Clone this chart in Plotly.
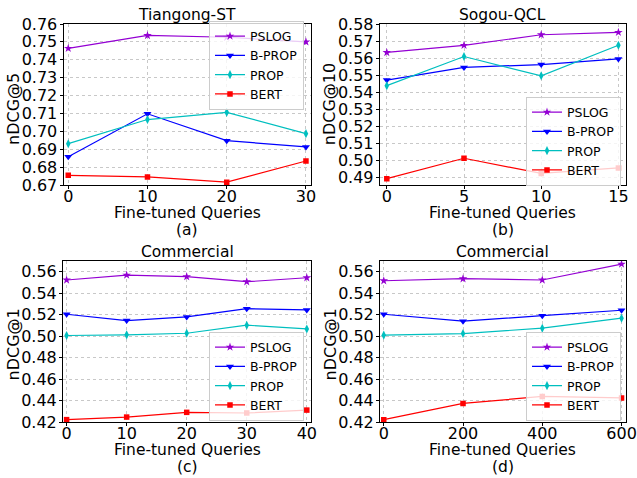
import plotly.graph_objects as go

# ---------------- data ----------------
series_names = ["PSLOG", "B-PROP", "PROP", "BERT"]

x_a = [0, 10, 20, 30]
a_pslog = [0.7464, 0.7536, 0.7526, 0.7500]
a_bprop = [0.6858, 0.7098, 0.6948, 0.6913]
a_prop = [0.6931, 0.7066, 0.7106, 0.6987]
a_bert = [0.6754, 0.6745, 0.6716, 0.6834]

x_b = [0, 5, 10, 15]
b_pslog = [0.5633, 0.5675, 0.5737, 0.5751]
b_bprop = [0.5471, 0.5545, 0.5562, 0.5595]
b_prop = [0.5438, 0.5609, 0.5496, 0.5675]
b_bert = [0.4892, 0.5012, 0.4923, 0.4955]

x_c = [0, 10, 20, 30, 40]
c_pslog = [0.5523, 0.5569, 0.5554, 0.5507, 0.5544]
c_bprop = [0.5204, 0.5145, 0.5179, 0.5256, 0.5244]
c_prop = [0.5006, 0.5012, 0.5027, 0.5102, 0.5067]
c_bert = [0.4222, 0.4246, 0.4290, 0.4284, 0.4311]

x_d = [0, 200, 400, 600]
d_pslog = [0.5516, 0.5535, 0.5523, 0.5671]
d_bprop = [0.5204, 0.5139, 0.5191, 0.5241]
d_prop = [0.5009, 0.5024, 0.5074, 0.5167]
d_bert = [0.4222, 0.4373, 0.4438, 0.4424]

panel_titles = ["Tiangong-ST", "Sogou-QCL", "Commercial", "Commercial"]
panel_labels = ["(a)", "(b)", "(c)", "(d)"]
y_titles = ["nDCG@5", "nDCG@10", "nDCG@1", "nDCG@1"]
x_title = "Fine-tuned Queries"

# ---------------- style ----------------
W, H = 637, 478
FONT = "DejaVu Sans"
colors = ["#9400D3", "#0000FF", "#00BFBF", "#FF0000"]
symbols = ["star", "triangle-down", "diamond-tall", "square"]
msizes = [6.5, 7, 6.5, 5.5]


def px(v):
    return v / W


def py(v):
    return 1 - v / H


# pixel boxes in the page (left, right, top, bottom)
boxes = [(63.5, 310.7, 24, 185), (379.7, 625.5, 24, 185),
         (63, 311, 261, 422), (380, 625.5, 261, 422)]
xranges = [[-0.6, 30.6], [-0.46, 15.46], [-0.6, 40.7], [-9.5, 610]]
yranges = [[0.67, 0.76], [0.4855, 0.58], [0.42, 0.57], [0.42, 0.57]]
ytickvals = [[0.67 + 0.01 * i for i in range(10)],
             [0.49 + 0.01 * i for i in range(10)],
             [0.42 + 0.02 * i for i in range(8)],
             [0.42 + 0.02 * i for i in range(8)]]
xtickvals = [x_a, x_b, x_c, x_d]
# legend box (right edge x, centre y)
legend_pos = [(304, 65), (621, 141), (304, 376), (621, 376)]
ytitle_shift = [5, 0, 3, 3]

data = [
    (x_a, [a_pslog, a_bprop, a_prop, a_bert]),
    (x_b, [b_pslog, b_bprop, b_prop, b_bert]),
    (x_c, [c_pslog, c_bprop, c_prop, c_bert]),
    (x_d, [d_pslog, d_bprop, d_prop, d_bert]),
]

fig = go.Figure()
layout = dict(
    width=W, height=H,
    margin=dict(l=0, r=0, t=0, b=0),
    paper_bgcolor="white", plot_bgcolor="white",
    font=dict(family=FONT, color="black"),
    annotations=[],
)

for p in range(4):
    xs, ys = data[p]
    suffix = "" if p == 0 else str(p + 1)
    leg = "legend" if p == 0 else "legend" + str(p + 1)
    for s in range(4):
        fig.add_trace(go.Scatter(
            x=xs, y=ys[s], name=series_names[s], mode="lines+markers",
            line=dict(color=colors[s], width=1.2),
            marker=dict(symbol=symbols[s], size=msizes[s], color=colors[s]),
            xaxis="x" + suffix, yaxis="y" + suffix, legend=leg,
        ))
    l, r, t, b = boxes[p]
    common = dict(
        showline=True, linecolor="black", linewidth=1, mirror=True,
        showgrid=True, gridcolor="#c8c8c8", griddash="dot", gridwidth=1,
        ticks="outside", ticklen=3, tickcolor="black",
        tickfont=dict(size=16, family=FONT), zeroline=False, automargin=False,
        ticklabeloverflow="allow",
    )
    layout["xaxis" + suffix] = dict(
        common, domain=[px(l), px(r)], range=xranges[p],
        tickvals=xtickvals[p], anchor="y" + suffix, ticklabelstandoff=-6,
    )
    layout["yaxis" + suffix] = dict(
        common, domain=[py(b), py(t)], range=yranges[p],
        tickvals=ytickvals[p], tickformat=".2f", anchor="x" + suffix,
        ticklabelstandoff=-1,
    )
    lx, ly = legend_pos[p]
    layout[leg] = dict(
        x=px(lx), y=py(ly), xanchor="right", yanchor="middle",
        xref="paper", yref="paper",
        bgcolor="rgba(255,255,255,0.8)", bordercolor="#cccccc", borderwidth=1,
        font=dict(size=12.5, family=FONT), itemwidth=30,
        tracegroupgap=0,
    )
    cx = (l + r) / 2
    layout["annotations"] += [
        dict(text=panel_titles[p], x=px(cx), y=py(t - 9), xref="paper", yref="paper",
             xanchor="center", yanchor="middle", showarrow=False, font=dict(size=15.5)),
        dict(text=x_title, x=px(cx), y=py(b + 28), xref="paper", yref="paper",
             xanchor="center", yanchor="middle", showarrow=False, font=dict(size=15.5)),
        dict(text=panel_labels[p], x=px(cx), y=py(b + 45), xref="paper", yref="paper",
             xanchor="center", yanchor="middle", showarrow=False, font=dict(size=15.5)),
        dict(text=y_titles[p], x=px(l - 50), y=py((t + b) / 2 + ytitle_shift[p]),
             xref="paper", yref="paper",
             xanchor="center", yanchor="middle", showarrow=False, textangle=-90,
             font=dict(size=16)),
    ]

fig.update_layout(**layout)
fig.write_html("out.html", post_script="document.body.style.margin='0';",
               config={"displayModeBar": False})
